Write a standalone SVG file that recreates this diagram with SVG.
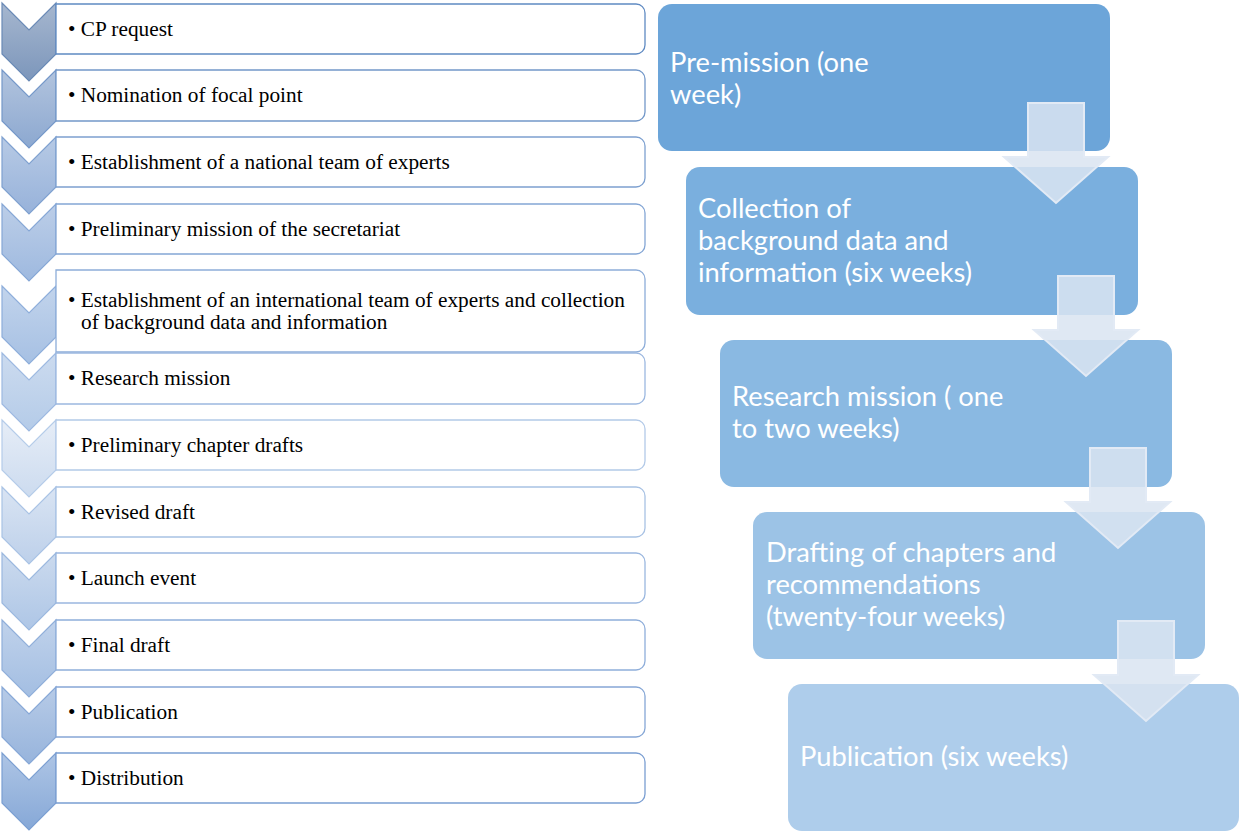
<svg xmlns="http://www.w3.org/2000/svg" width="1240" height="833" viewBox="0 0 1240 833">
<style>
.box{fill:#ffffff;stroke-width:1.3}
.lt{font-family:"Liberation Serif","Times New Roman",serif;font-size:21.3px;fill:#000000}
.rt{font-family:Lato,"Open Sans",sans-serif;font-size:27.3px;fill:#ffffff}
.arrow{fill:#dae4f1;fill-opacity:0.86;stroke:#e2eaf5;stroke-width:2;stroke-linejoin:miter}
.chev{stroke-width:1.2}
</style>
<defs>
<linearGradient id="g1" x1="0" y1="0" x2="0" y2="1"><stop offset="0" stop-color="#a6b7cf"/><stop offset="1" stop-color="#7c96bb"/></linearGradient>
<linearGradient id="g2" x1="0" y1="0" x2="0" y2="1"><stop offset="0" stop-color="#b2c4de"/><stop offset="1" stop-color="#8ca8d0"/></linearGradient>
<linearGradient id="g3" x1="0" y1="0" x2="0" y2="1"><stop offset="0" stop-color="#b7cae5"/><stop offset="1" stop-color="#97b2da"/></linearGradient>
<linearGradient id="g4" x1="0" y1="0" x2="0" y2="1"><stop offset="0" stop-color="#bccee8"/><stop offset="1" stop-color="#9eb9df"/></linearGradient>
<linearGradient id="g5" x1="0" y1="0" x2="0" y2="1"><stop offset="0" stop-color="#c2d4ec"/><stop offset="1" stop-color="#a6c0e3"/></linearGradient>
<linearGradient id="g6" x1="0" y1="0" x2="0" y2="1"><stop offset="0" stop-color="#ccdbef"/><stop offset="1" stop-color="#b4cbe8"/></linearGradient>
<linearGradient id="g7" x1="0" y1="0" x2="0" y2="1"><stop offset="0" stop-color="#e6edf7"/><stop offset="1" stop-color="#ccdbef"/></linearGradient>
<linearGradient id="g8" x1="0" y1="0" x2="0" y2="1"><stop offset="0" stop-color="#d9e4f3"/><stop offset="1" stop-color="#bdd0ea"/></linearGradient>
<linearGradient id="g9" x1="0" y1="0" x2="0" y2="1"><stop offset="0" stop-color="#cbdaee"/><stop offset="1" stop-color="#aec6e6"/></linearGradient>
<linearGradient id="g10" x1="0" y1="0" x2="0" y2="1"><stop offset="0" stop-color="#c0d2eb"/><stop offset="1" stop-color="#a3bee2"/></linearGradient>
<linearGradient id="g11" x1="0" y1="0" x2="0" y2="1"><stop offset="0" stop-color="#b7cbe7"/><stop offset="1" stop-color="#97b4dc"/></linearGradient>
<linearGradient id="g12" x1="0" y1="0" x2="0" y2="1"><stop offset="0" stop-color="#aec5e5"/><stop offset="1" stop-color="#86a8d7"/></linearGradient>
</defs>
<rect width="1240" height="833" fill="#ffffff"/>

<!-- Left list -->
<g id="row1">
<path class="chev" d="M2,3 L29,30 L56,3 V54 L29,81 L2,54 Z" fill="url(#g1)" stroke="#6a8ab6"/>
<path class="box" d="M56,4 H636 A9,9 0 0 1 645,13 V45 A9,9 0 0 1 636,54 H56 Z" stroke="#5f8ac2"/>
<text class="lt" x="68" y="36">• CP request</text>
</g>
<g id="row2">
<path class="chev" d="M2,70 L29,97 L56,70 V121 L29,148 L2,121 Z" fill="url(#g2)" stroke="#7598c9"/>
<path class="box" d="M56,70 H636 A9,9 0 0 1 645,79 V112 A9,9 0 0 1 636,121 H56 Z" stroke="#7398c9"/>
<text class="lt" x="68" y="102">• Nomination of focal point</text>
</g>
<g id="row3">
<path class="chev" d="M2,137 L29,164 L56,137 V187 L29,214 L2,187 Z" fill="url(#g3)" stroke="#7fa1d0"/>
<path class="box" d="M56,137 H636 A9,9 0 0 1 645,146 V178 A9,9 0 0 1 636,187 H56 Z" stroke="#7da0d0"/>
<text class="lt" x="68" y="169">• Establishment of a national team of experts</text>
</g>
<g id="row4">
<path class="chev" d="M2,204 L29,231 L56,204 V254 L29,281 L2,254 Z" fill="url(#g4)" stroke="#86a7d6"/>
<path class="box" d="M56,204 H636 A9,9 0 0 1 645,213 V245 A9,9 0 0 1 636,254 H56 Z" stroke="#84a6d5"/>
<text class="lt" x="68" y="236">• Preliminary mission of the secretariat</text>
</g>
<g id="row5">
<path class="chev" d="M2,286 L29,313 L56,286 V337 L29,364 L2,337 Z" fill="url(#g5)" stroke="#8eaedb"/>
<path class="box" d="M56,270 H636 A9,9 0 0 1 645,279 V343 A9,9 0 0 1 636,352 H56 Z" stroke="#8dadd9"/>
<text class="lt" x="68" y="307">• Establishment of an international team of experts and collection</text>
<text class="lt" x="81" y="329">of background data and information</text>
</g>
<g id="row6">
<path class="chev" d="M2,353 L29,380 L56,353 V404 L29,431 L2,404 Z" fill="url(#g6)" stroke="#9db9e1"/>
<path class="box" d="M56,353 H636 A9,9 0 0 1 645,362 V395 A9,9 0 0 1 636,404 H56 Z" stroke="#9cb8e0"/>
<text class="lt" x="68" y="385">• Research mission</text>
</g>
<g id="row7">
<path class="chev" d="M2,420 L29,447 L56,420 V470 L29,497 L2,470 Z" fill="url(#g7)" stroke="#b5cce9"/>
<path class="box" d="M56,420 H636 A9,9 0 0 1 645,429 V461 A9,9 0 0 1 636,470 H56 Z" stroke="#b3cae8"/>
<text class="lt" x="68" y="452">• Preliminary chapter drafts</text>
</g>
<g id="row8">
<path class="chev" d="M2,487 L29,514 L56,487 V537 L29,564 L2,537 Z" fill="url(#g8)" stroke="#a9c3e5"/>
<path class="box" d="M56,487 H636 A9,9 0 0 1 645,496 V528 A9,9 0 0 1 636,537 H56 Z" stroke="#a8c2e4"/>
<text class="lt" x="68" y="519">• Revised draft</text>
</g>
<g id="row9">
<path class="chev" d="M2,553 L29,580 L56,553 V603 L29,630 L2,603 Z" fill="url(#g9)" stroke="#9bb8df"/>
<path class="box" d="M56,553 H636 A9,9 0 0 1 645,562 V594 A9,9 0 0 1 636,603 H56 Z" stroke="#9ab7df"/>
<text class="lt" x="68" y="585">• Launch event</text>
</g>
<g id="row10">
<path class="chev" d="M2,620 L29,647 L56,620 V670 L29,697 L2,670 Z" fill="url(#g10)" stroke="#90afda"/>
<path class="box" d="M56,620 H636 A9,9 0 0 1 645,629 V661 A9,9 0 0 1 636,670 H56 Z" stroke="#8faeda"/>
<text class="lt" x="68" y="652">• Final draft</text>
</g>
<g id="row11">
<path class="chev" d="M2,687 L29,714 L56,687 V737 L29,764 L2,737 Z" fill="url(#g11)" stroke="#87a8d7"/>
<path class="box" d="M56,687 H636 A9,9 0 0 1 645,696 V728 A9,9 0 0 1 636,737 H56 Z" stroke="#86a7d6"/>
<text class="lt" x="68" y="719">• Publication</text>
</g>
<g id="row12">
<path class="chev" d="M2,753 L29,780 L56,753 V803 L29,830 L2,803 Z" fill="url(#g12)" stroke="#7b9fd2"/>
<path class="box" d="M56,753 H636 A9,9 0 0 1 645,762 V794 A9,9 0 0 1 636,803 H56 Z" stroke="#7a9ed2"/>
<text class="lt" x="68" y="785">• Distribution</text>
</g>

<!-- Right process -->
<g id="step1">
<rect x="658" y="4" width="452" height="147" rx="14" fill="#6ca5d9"/>
<text class="rt" x="670" y="72">Pre-mission (one</text>
<text class="rt" x="670" y="104">week)</text>
</g>
<g id="step2">
<rect x="686" y="167" width="452" height="148" rx="14" fill="#7aafde"/>
<text class="rt" x="698" y="218">Collection of</text>
<text class="rt" x="698" y="250">background data and</text>
<text class="rt" x="698" y="282">information (six weeks)</text>
</g>
<g id="step3">
<rect x="720" y="340" width="452" height="147" rx="14" fill="#8ab9e2"/>
<text class="rt" x="732" y="406">Research mission ( one</text>
<text class="rt" x="732" y="438">to two weeks)</text>
</g>
<g id="step4">
<rect x="753" y="512" width="452" height="147" rx="14" fill="#9cc3e6"/>
<text class="rt" x="766" y="562">Drafting of chapters and</text>
<text class="rt" x="766" y="594">recommendations</text>
<text class="rt" x="766" y="626">(twenty-four weeks)</text>
</g>
<g id="step5">
<rect x="788" y="684" width="451" height="147" rx="14" fill="#aecdeb"/>
<text class="rt" x="800" y="766">Publication (six weeks)</text>
</g>

<g id="connectors">
<path class="arrow" d="M1028,103 H1084 V157 H1108 L1056,203 L1004,157 H1028 Z"/>
<path class="arrow" d="M1058,276 H1114 V330 H1138 L1086,376 L1034,330 H1058 Z"/>
<path class="arrow" d="M1090,448 H1146 V502 H1170 L1118,548 L1066,502 H1090 Z"/>
<path class="arrow" d="M1118,621 H1174 V675 H1198 L1146,721 L1094,675 H1118 Z"/>
</g>
</svg>
